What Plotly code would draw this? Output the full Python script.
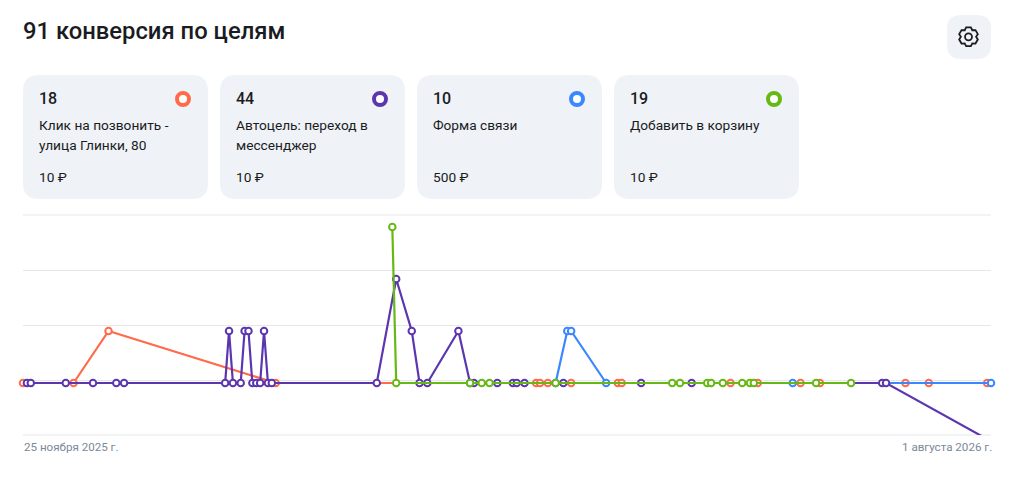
import math
import plotly.graph_objects as go

# ---- data (days since 25 Nov 2025, conversions) ----
orange_days = [0, 13, 22, 65, 132, 133, 135, 141, 153, 154, 182, 189, 200, 205, 227, 233, 248]
orange_vals = [0, 0, 1, 0, 0, 0, 0, 0, 0, 0, 0, 0, 0, 0, 0, 0, 0]
blue_days = [137, 140, 141, 150, 198, 249]
blue_vals = [0, 1, 1, 0, 0, 0]
purple_days = [1, 2, 11, 18, 24, 26, 52, 53, 54, 56, 57, 58, 59, 60, 61, 62, 63, 64, 91, 96, 100, 102, 104,
               112, 115, 116, 122, 126, 127, 129, 139, 159, 172, 221, 222, 249]
purple_vals = [0, 0, 0, 0, 0, 0, 0, 1, 0, 0, 1, 1, 0, 0, 0, 1, 0, 0, 0, 2, 1, 0, 0,
               1, 0, 0, 0, 0, 0, 0, 0, 0, 0, 0, 0, -1.12]
green_days = [95, 96, 115, 118, 120, 137, 167, 169, 176, 177, 180, 185, 187, 188, 204, 213]
green_vals = [3, 0, 0, 0, 0, 0, 0, 0, 0, 0, 0, 0, 0, 0, 0, 0]

title = "91 конверсия по целям"
card_totals = ["18", "44", "10", "19"]
card_names = [["Клик на позвонить -", "улица Глинки, 80"], ["Автоцель: переход в", "мессенджер"],
              ["Форма связи"], ["Добавить в корзину"]]
card_prices = ["10 ₽", "10 ₽", "500 ₽", "10 ₽"]
start_label = "25 ноября 2025 г."
end_label = "1 августа 2026 г."

ORANGE, PURPLE, BLUE, GREEN = "#ff6b4a", "#5c36ae", "#3a87ff", "#66b814"
CARD_BG, INK, GRID, MUTED = "#eff2f7", "#1a1c22", "#e6e7e9", "#7b879b"
FONT = "Roboto, Noto Sans, sans-serif"

W, H = 1017, 492
L, R, T, B = 23, 991, 215, 435
ZERO_Y, UNIT = 383, 52   # pixel row of zero, pixels per conversion

def px(x): return (x - L) / (R - L)
def py(y): return (B - y) / (B - T)

def rrect(x0, y0, x1, y1, r):
    pts = [("M", x0 + r, y0), ("L", x1 - r, y0), ("Q", x1, y0, x1, y0 + r), ("L", x1, y1 - r),
           ("Q", x1, y1, x1 - r, y1), ("L", x0 + r, y1), ("Q", x0, y1, x0, y1 - r), ("L", x0, y0 + r),
           ("Q", x0, y0, x0 + r, y0)]
    out = []
    for p in pts:
        c = p[0]
        v = p[1:]
        s = " ".join(f"{px(v[i]):.5f},{py(v[i+1]):.5f}" for i in range(0, len(v), 2))
        out.append(f"{c} {s}")
    return " ".join(out) + " Z"

def trace(days, vals, color):
    return go.Scatter(x=days, y=vals, mode="lines+markers", cliponaxis=False,
                      line=dict(color=color, width=2.2),
                      marker=dict(size=6.5, color="white", line=dict(color=color, width=2)),
                      hoverinfo="skip", showlegend=False)

fig = go.Figure([trace(orange_days, orange_vals, ORANGE), trace(blue_days, blue_vals, BLUE),
                 trace(purple_days, purple_vals, PURPLE), trace(green_days, green_vals, GREEN)])

shapes, ann = [], []
def text(x, y, s, size, color=INK, anchor="left", weight=400):
    ann.append(dict(xref="paper", yref="paper", x=px(x), y=py(y), text=s, showarrow=False, xanchor=anchor,
                    yanchor="middle", borderpad=0, font=dict(family=FONT, size=size, color=color, weight=weight)))

# top and bottom grid rules: plotly drops axis gridlines that sit on the plot edge
for edge in (0, 1):
    shapes.append(dict(type="line", xref="paper", yref="paper", layer="below", x0=0, x1=1, y0=edge, y1=edge,
                       line=dict(color=GRID, width=1)))

card_x = [23, 220, 417, 614]
ring_cols = [ORANGE, PURPLE, BLUE, GREEN]
for i, x0 in enumerate(card_x):
    shapes.append(dict(type="path", xref="paper", yref="paper", layer="below", line_width=0, fillcolor=CARD_BG,
                       path=rrect(x0, 75, x0 + 185, 199, 16)))
    cx = x0 + 160
    shapes.append(dict(type="circle", xref="paper", yref="paper", x0=px(cx - 6), x1=px(cx + 6), y0=py(105), y1=py(93),
                       fillcolor="white", line=dict(color=ring_cols[i], width=4)))
    text(x0 + 15, 98, card_totals[i], 16, weight=500)
    for j, line in enumerate(card_names[i]):
        text(x0 + 15, 125 + 20 * j, line, 13.7)
    text(x0 + 15, 177, card_prices[i], 13.7)

text(22, 31, title, 23.8, weight=500)
text(23, 447, start_label, 11.6, MUTED)
text(993, 447, end_label, 11.6, MUTED, anchor="right")

# settings button and gear icon
shapes.append(dict(type="path", xref="paper", yref="paper", line_width=0, fillcolor=CARD_BG,
                   path=rrect(947, 15, 991, 59, 14)))
gx, gy = 968.5, 36.8
gear = []
for k in range(6):
    a0 = math.radians(60 * k - 90)
    for da, rad in [(-14, 9.7), (14, 9.7), (30, 7.6)]:
        a = a0 + math.radians(da)
        gear.append((gx + rad * math.cos(a), gy + rad * math.sin(a)))
shapes.append(dict(type="path", xref="paper", yref="paper", fillcolor="rgba(0,0,0,0)",
                   line=dict(color=INK, width=1.8),
                   path="M " + " L ".join(f"{px(a):.5f},{py(b):.5f}" for a, b in gear) + " Z"))
shapes.append(dict(type="circle", xref="paper", yref="paper", x0=px(gx - 3.5), x1=px(gx + 3.5), y0=py(gy + 3.5), y1=py(gy - 3.5),
                   line=dict(color=INK, width=1.8)))

fig.update_layout(
    width=W, height=H, paper_bgcolor="white", plot_bgcolor="white",
    margin=dict(l=L, r=W - R, t=T, b=H - B), shapes=shapes, annotations=ann,
    xaxis=dict(range=[0, 249], visible=False),
    yaxis=dict(range=[(ZERO_Y - B) / UNIT, (ZERO_Y - T) / UNIT], tick0=-1, dtick=55 / UNIT, showticklabels=False,
               ticks="", zeroline=False, showline=False, gridcolor=GRID, gridwidth=1),
)
fig.write_html("out.html", config=dict(displayModeBar=False),
               post_script="document.body.style.margin='0';document.body.style.overflow='hidden';")
